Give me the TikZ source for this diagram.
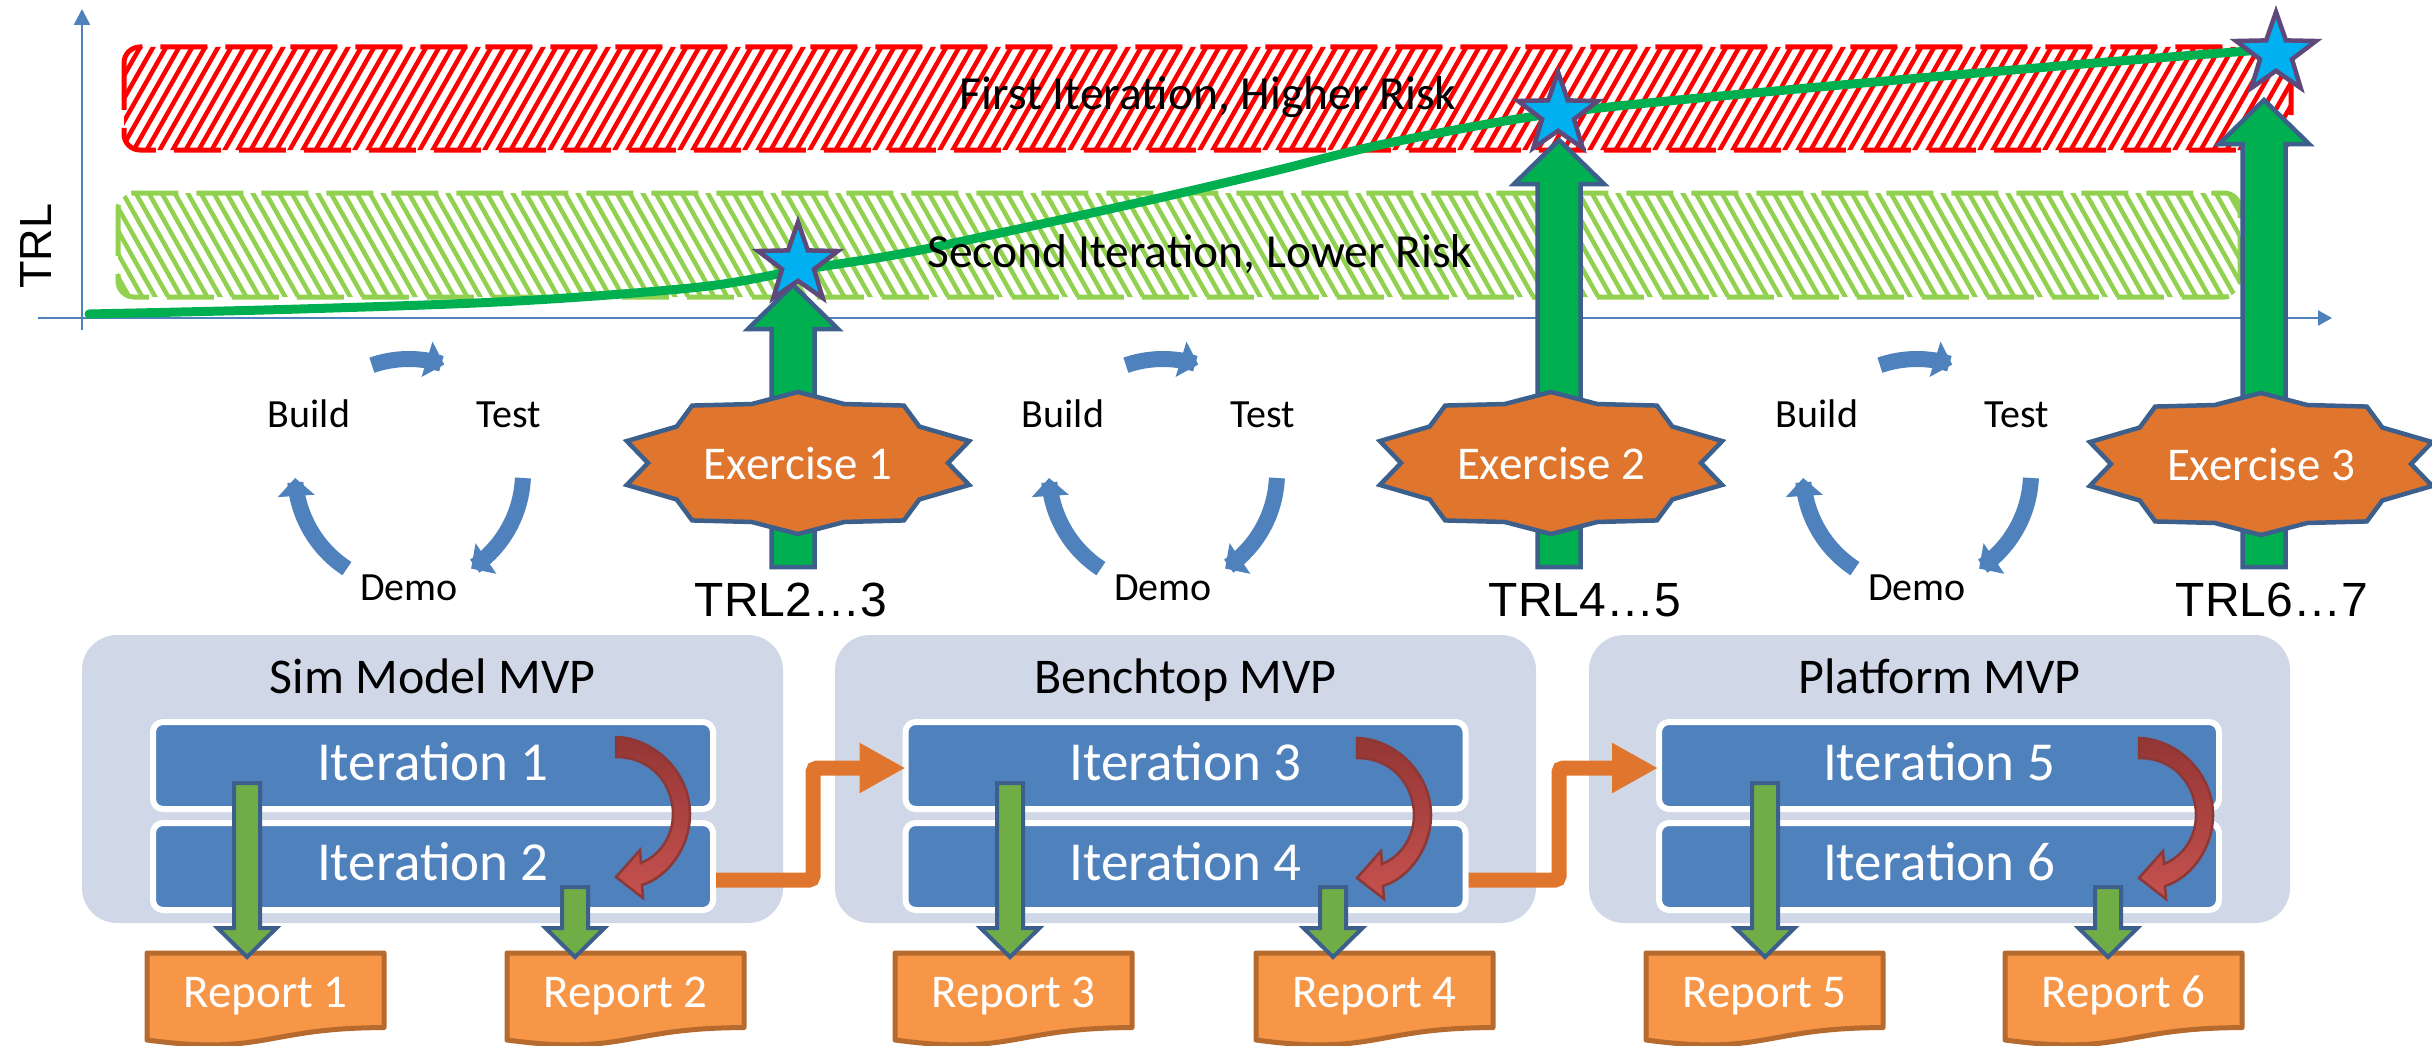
\documentclass[tikz,border=0pt]{standalone}
\usepackage{fontspec}
\setmainfont{Carlito}
\newfontfamily\trlfont{Liberation Sans}
\usetikzlibrary{arrows.meta,shapes.geometric,calc}

\definecolor{axisblue}{HTML}{4F81BD}
\definecolor{bandred}{HTML}{FF0000}
\definecolor{bandgreen}{HTML}{92D050}
\definecolor{trlgreen}{HTML}{00B050}
\definecolor{edgeblue}{HTML}{3C5F8C}
\definecolor{starcyan}{HTML}{00B0F0}
\definecolor{starpurple}{HTML}{5F497A}
\definecolor{exorange}{HTML}{E0752D}
\definecolor{mvpfill}{HTML}{D0D8E8}
\definecolor{iterblue}{HTML}{4F81BD}
\definecolor{repfill}{HTML}{F79646}
\definecolor{repedge}{HTML}{B66A2E}
\definecolor{downgreen}{HTML}{70AD47}
\definecolor{loopdark}{HTML}{8C3836}
\definecolor{looptop}{HTML}{943634}
\definecolor{loopbottom}{HTML}{C6524F}
\definecolor{linkorange}{HTML}{E0762E}

\tikzset{
  bandtext/.style={font=\fontsize{47.5}{52}\selectfont, anchor=base, inner sep=0},
  cycletext/.style={font=\fontsize{40}{44}\selectfont, anchor=base, inner sep=0},
  cyclearrow/.style={draw=axisblue, line width=16, -{Triangle[width=36pt,length=18pt]}},
  trllabel/.style={font=\trlfont\fontsize{48}{52}\selectfont, anchor=base, inner sep=0},
  extext/.style={font=\fontsize{47}{51}\selectfont, text=white, anchor=base, inner sep=0},
  exshape/.style={fill=exorange, draw=edgeblue, line width=4.5},
  mvpbox/.style={fill=mvpfill, rounded corners=35, minimum width=701, minimum height=288, inner sep=0},
  mvptitle/.style={font=\fontsize{50}{54}\selectfont, anchor=base, inner sep=0},
  iterbox/.style={fill=iterblue, draw=white, line width=6, rounded corners=10, minimum width=560, minimum height=87, inner sep=0},
  itertext/.style={font=\fontsize{55}{59}\selectfont, text=white, anchor=base, inner sep=0},
  reptext/.style={font=\fontsize{47}{51}\selectfont, text=white, anchor=base, inner sep=0},
  repshape/.style={fill=repfill, draw=repedge, line width=5, line join=round},
  downblock/.style={fill=downgreen, draw=edgeblue, line width=4},
  upblock/.style={fill=trlgreen, draw=edgeblue, line width=4.5},
  milestone/.style={star, star points=5, star point ratio=2.5, minimum size=84, inner sep=0, fill=starcyan, draw=starpurple, line width=4.5},
  link/.style={draw=linkorange, line width=15, rounded corners=4, -{Triangle[width=47pt,length=46pt]}},
  loopshape/.style={draw=loopdark, line width=2.5, top color=looptop, bottom color=loopbottom},
  axis/.style={draw=axisblue, line width=2.5},
}

% block arrow pointing down: #1 top of shaft, #2 tip
\newcommand{\blockdown}[2]{%
  \draw[downblock] ($(#1)+(-13,0)$) -- ($(#2)+(-13,-29)$) -- ($(#2)+(-29.5,-29)$) -- (#2)
    -- ($(#2)+(29.5,-29)$) -- ($(#2)+(13,-29)$) -- ($(#1)+(13,0)$) -- cycle;}
% block arrow pointing up: #1 foot of shaft, #2 tip
\newcommand{\blockup}[2]{%
  \draw[upblock] ($(#1)+(-21.5,0)$) -- ($(#2)+(-21.5,44)$) -- ($(#2)+(-45,44)$) -- (#2)
    -- ($(#2)+(45,44)$) -- ($(#2)+(21.5,44)$) -- ($(#1)+(21.5,0)$) -- cycle;}
% ten-point seal with a label: #1 x, #2 y, #3 name, #4 text
\newcommand{\exseal}[4]{%
  \draw[exshape] plot[variable=\k, samples at={0,...,19}]
    ({#1+(165+15*cos(180*\k))*cos(90-18*\k)}, {#2-(66.5+4.5*cos(180*\k))*sin(90-18*\k)}) -- cycle;
  \node[extext] (#3) at (#1,#2+16) {#4};}
% build/test/demo loop: #1 centre x, #2 name suffix
\newcommand{\btdloop}[2]{%
  \node[cycletext] (build#2) at (#1-100,427) {Build};
  \node[cycletext] (test#2) at (#1+100,427) {Test};
  \node[cycletext] (demo#2) at (#1,600) {Demo};
  \draw[cyclearrow] plot[domain=-109:-72, samples=25] ({#1+114*cos(\x)},{473+114*sin(\x)});
  \draw[cyclearrow] plot[domain=2.5:57, samples=25] ({#1+114*cos(\x)},{473+114*sin(\x)});
  \draw[cyclearrow] plot[domain=123:177.5, samples=25] ({#1+114*cos(\x)},{473+114*sin(\x)});}
% report document shape: #1 left x, #2 name, #3 text
\newcommand{\reportdoc}[3]{%
  \draw[repshape] (#1,953) -- (#1+237,953) -- (#1+237,1027.6)
    .. controls (#1+118.5,1027.6) and (#1+118.5,1056) .. (#1,1040) -- cycle;
  \node[reptext] (#2) at (#1+118.5,1007) {#3};}
% curved loop-back arrow from one iteration to the next: #1 x, #2 y of tail
\newcommand{\loopback}[2]{%
  \begin{scope}[shift={(#1,#2)}]
    \path[loopshape] (0,0) .. controls (38,1) and (74,35) .. (74,77)
      .. controls (74,110) and (52,140) .. (26,148) -- (27,161) -- (0,140) -- (24,113) -- (25,126)
      .. controls (45,118) and (57,98) .. (57,77)
      .. controls (57,48) and (36,20) .. (0,20) -- cycle;
  \end{scope}}

\begin{document}
\begin{tikzpicture}[x=1pt,y=-1pt]
\useasboundingbox (0,0) rectangle (2432,1046);

% risk bands
\begin{scope}
  \clip[rounded corners=16] (124,47) rectangle (2291,150);
  \foreach \i in {0,...,172} \draw[bandred, line width=4.5] ({54+13*\i},153) -- ++(62,-109);
\end{scope}
\draw[bandred, line width=5, dash pattern=on 47pt off 18pt, rounded corners=16] (124,47) rectangle (2291,150);
\begin{scope}
  \clip[rounded corners=16] (118,193) rectangle (2240,297);
  \foreach \i in {0,...,168} \draw[bandgreen, line width=4.5] ({118+13*\i},300) -- ++(-62,-110);
\end{scope}
\draw[bandgreen, line width=5, dash pattern=on 47pt off 18pt, rounded corners=16] (118,193) rectangle (2240,297);

% axes
\coordinate (ybot) at (82,330);
\coordinate (ytop) at (82,9);
\coordinate (xleft) at (38,318);
\coordinate (xright) at (2332,318);
\draw[axis, -{Triangle[width=16pt,length=16pt]}] (ybot) -- (ytop);
\draw[axis, -{Triangle[width=15pt,length=14pt]}] (xleft) -- (xright);
\node[font=\trlfont\fontsize{45}{50}\selectfont, rotate=90, inner sep=0] (trlaxis) at (36,246) {TRL};

% maturity curve
\draw[trlgreen, line width=9, line cap=round] plot[smooth, tension=0.55] coordinates
  {(89,314) (300,309) (517,301) (700,287) (800,270) (900,254) (1000,233) (1159,198) (1274,171) (1389,143) (1558,113) (1797,89) (2095,63) (2262,50)};

\node[bandtext] (firsttxt) at (1208,110) {First Iteration, Higher Risk};
\node[bandtext] (secondtxt) at (1200,267) {Second Iteration, Lower Risk};

% exercise arrows and milestones
\coordinate (upfootA) at (793,567);  \coordinate (uptipA) at (793,285);
\coordinate (upfootB) at (1559,567); \coordinate (uptipB) at (1559,140);
\coordinate (upfootC) at (2264,567); \coordinate (uptipC) at (2264,100);
\blockup{upfootA}{uptipA}
\blockup{upfootB}{uptipB}
\blockup{upfootC}{uptipC}
\node[milestone] (star1) at (798,264) {};
\node[milestone] (star2) at (1558,114) {};
\node[milestone] (star3) at (2276,54) {};

\exseal{798}{463}{ex1}{Exercise 1}
\exseal{1551}{463}{ex2}{Exercise 2}
\exseal{2261}{464}{ex3}{Exercise 3}

\node[trllabel] (trlA) at (791,616) {TRL2…3};
\node[trllabel] (trlB) at (1585,616) {TRL4…5};
\node[trllabel] (trlC) at (2272,616) {TRL6…7};

% build / test / demo loops
\btdloop{409}{A}
\btdloop{1163}{B}
\btdloop{1917}{C}

% MVP containers
\node[mvpbox] (simmvp) at (432.5,779) {};
\node[mvpbox] (benchmvp) at (1185.5,779) {};
\node[mvpbox] (platmvp) at (1939.5,779) {};
\node[mvptitle] (simtitle) at (432.5,693) {Sim Model MVP};
\node[mvptitle] (benchtitle) at (1185.5,693) {Benchtop MVP};
\node[mvptitle] (plattitle) at (1939.5,693) {Platform MVP};

% iterations
\node[iterbox] (it1) at (433,765.5) {};
\node[iterbox] (it2) at (433,866.5) {};
\node[iterbox] (it3) at (1185.5,765.5) {};
\node[iterbox] (it4) at (1185.5,866.5) {};
\node[iterbox] (it5) at (1939,765.5) {};
\node[iterbox] (it6) at (1939,866.5) {};
\node[itertext] (it1t) at (433,780) {Iteration 1};
\node[itertext] (it2t) at (433,880) {Iteration 2};
\node[itertext] (it3t) at (1185.5,780) {Iteration 3};
\node[itertext] (it4t) at (1185.5,880) {Iteration 4};
\node[itertext] (it5t) at (1939,780) {Iteration 5};
\node[itertext] (it6t) at (1939,880) {Iteration 6};

% hand-over between MVPs
\draw[link] ([yshift=-13.5pt]it2.east) -- ++(97,0) |- ([xshift=3pt,yshift=-2.5pt]it3.west);
\draw[link] ([yshift=-13.5pt]it4.east) -- ++(90.5,0) |- ([xshift=2pt,yshift=-2.5pt]it5.west);

% loop-back arrows
\loopback{616}{737}
\loopback{1357}{738}
\loopback{2139}{738}

% reports
\reportdoc{147}{rep1}{Report 1}
\reportdoc{507}{rep2}{Report 2}
\reportdoc{895}{rep3}{Report 3}
\reportdoc{1256}{rep4}{Report 4}
\reportdoc{1646}{rep5}{Report 5}
\reportdoc{2005}{rep6}{Report 6}

% iteration to report arrows
\coordinate (dn1) at (247,783);  \coordinate (dt1) at (247,957);
\coordinate (dn2) at (575,887);  \coordinate (dt2) at (575,957);
\coordinate (dn3) at (1010,783); \coordinate (dt3) at (1010,957);
\coordinate (dn4) at (1333,887); \coordinate (dt4) at (1333,957);
\coordinate (dn5) at (1765,783); \coordinate (dt5) at (1765,957);
\coordinate (dn6) at (2108,887); \coordinate (dt6) at (2108,957);
\blockdown{dn1}{dt1}
\blockdown{dn2}{dt2}
\blockdown{dn3}{dt3}
\blockdown{dn4}{dt4}
\blockdown{dn5}{dt5}
\blockdown{dn6}{dt6}
\end{tikzpicture}
\end{document}
